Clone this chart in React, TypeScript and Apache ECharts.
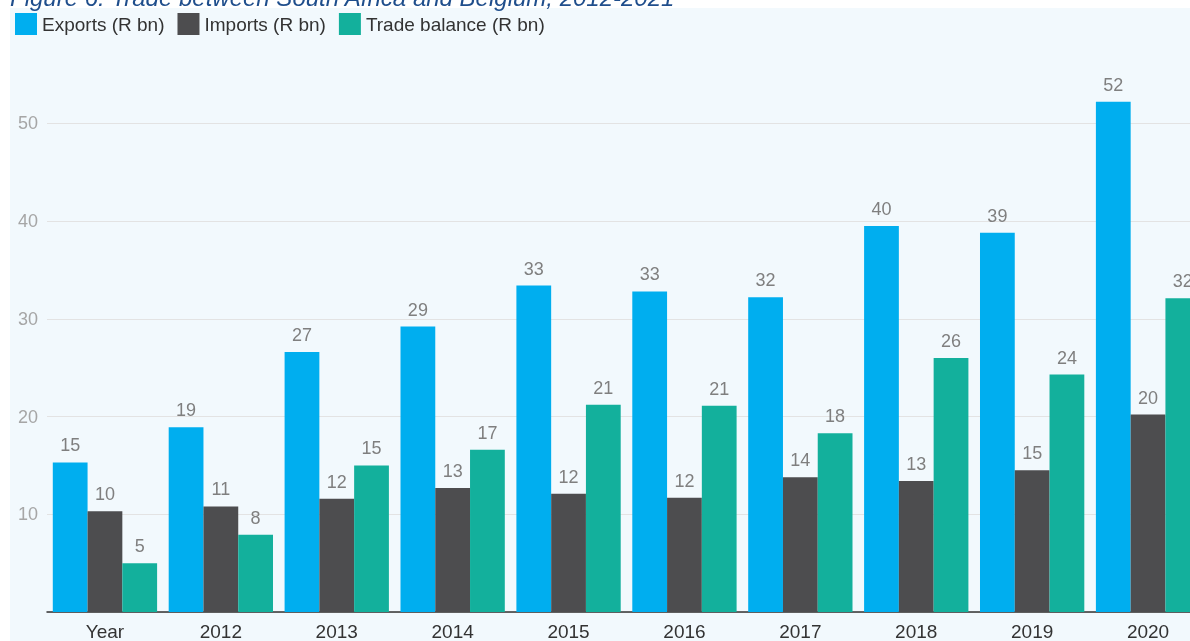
import React, { useEffect, useRef } from "react";
import * as echarts from "echarts";

const categories = ["Year", "2012", "2013", "2014", "2015", "2016", "2017", "2018", "2019", "2020"];
const exportsData = [15.3, 18.9, 26.6, 29.2, 33.4, 32.8, 32.2, 39.5, 38.8, 52.2];
const importsData = [10.3, 10.8, 11.6, 12.7, 12.1, 11.7, 13.8, 13.4, 14.5, 20.2];
const balanceData = [5.0, 7.9, 15.0, 16.6, 21.2, 21.1, 18.3, 26.0, 24.3, 32.1];
const seriesNames = ["Exports (R bn)", "Imports (R bn)", "Trade balance (R bn)"];
const colors = ["#00AEEF", "#4D4D4F", "#13B09C"];
const titleText = "Figure 6: Trade between South Africa and Belgium, 2012-2021";

const FONT = "'Liberation Sans', Arial, sans-serif";

export default function App() {
  const ref = useRef<HTMLDivElement>(null);
  useEffect(() => {
    if (!ref.current) return;
    const chart = echarts.init(ref.current, undefined, { renderer: "svg" });
    const mk = (name: string, data: number[], color: string) => ({
      name,
      type: "bar",
      data,
      barGap: "0%",
      barCategoryGap: "10%",
      itemStyle: { color },
      label: {
        show: true,
        position: "top",
        distance: 8,
        color: "#7f7f7f",
        fontSize: 18,
        fontFamily: FONT,
        formatter: (p: any) => String(Math.round(p.value)),
      },
    });
    chart.setOption({
      animation: false,
      textStyle: { fontFamily: FONT },
      graphic: [
        {
          type: "rect",
          z: -10,
          shape: { x: 10, y: 8, width: 3000, height: 1000 },
          style: { fill: "#f2f9fd" },
          silent: true,
        },
        {
          type: "text",
          x: 10,
          y: 9,
          style: {
            text: titleText,
            fontSize: 24,
            fontStyle: "italic",
            fontFamily: FONT,
            fill: "#1f4e8c",
            textVerticalAlign: "bottom",
          },
        },
      ],
      legend: {
        left: 10,
        top: 8,
        itemWidth: 22,
        itemHeight: 22,
        itemGap: 13,
        icon: "rect",
        textStyle: { fontSize: 19, color: "#333", fontFamily: FONT },
        data: seriesNames,
      },
      grid: { left: 47, top: 25.6, width: 1159, height: 590.4, containLabel: false },
      xAxis: {
        type: "category",
        data: categories,
        axisLine: { lineStyle: { color: "#333", width: 1.5 } },
        axisTick: { show: false },
        axisLabel: { color: "#333", fontSize: 19, margin: 10, fontFamily: FONT },
      },
      yAxis: {
        type: "value",
        min: 0,
        max: 60,
        interval: 10,
        axisLine: { show: false },
        axisTick: { show: false },
        axisLabel: {
          color: "#a6a6a6",
          fontSize: 18,
          margin: 9,
          fontFamily: FONT,
          showMaxLabel: false,
          formatter: (v: number) => (v === 0 ? "" : String(v)),
        },
        splitLine: { lineStyle: { color: "#e3e3e3" }, showMaxLine: false },
      },
      series: [
        mk(seriesNames[0], exportsData, colors[0]),
        mk(seriesNames[1], importsData, colors[1]),
        mk(seriesNames[2], balanceData, colors[2]),
      ],
    });
    return () => chart.dispose();
  }, []);
  return (
    <div
      ref={ref}
      style={{ position: "fixed", left: 0, top: 0, width: 1300, height: 641 }}
    />
  );
}
